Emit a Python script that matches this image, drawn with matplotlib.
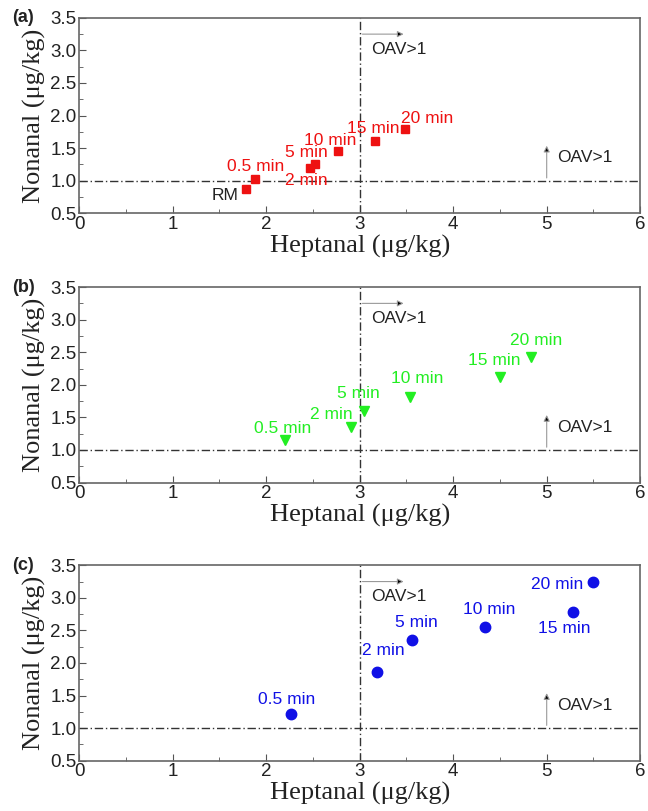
import matplotlib.pyplot as plt
from matplotlib.ticker import MultipleLocator

# Heptanal / nonanal contents at each treatment time
labels_a = ['RM', '0.5 min', '2 min', '5 min', '10 min', '15 min', '20 min']
hept_a = [1.78, 1.88, 2.47, 2.52, 2.77, 3.16, 3.49]
non_a = [0.88, 1.03, 1.19, 1.25, 1.45, 1.61, 1.79]

labels_b = ['0.5 min', '2 min', '5 min', '10 min', '15 min', '20 min']
hept_b = [2.20, 2.91, 3.05, 3.54, 4.50, 4.83]
non_b = [1.15, 1.36, 1.60, 1.81, 2.12, 2.42]

labels_c = ['0.5 min', '2 min', '5 min', '10 min', '15 min', '20 min']
hept_c = [2.27, 3.19, 3.56, 4.34, 5.28, 5.50]
non_c = [1.21, 1.86, 2.35, 2.56, 2.78, 3.25]

# label offsets in pixels from each point (text centred)
offs_a = [(-20, -7), (1, 12), (-4, -12), (-8, 12), (-8, 11), (-1, 12), (22, 11)]
offs_b = [(-2, 12), (-20, 12), (-6, 17), (7, 19), (-6, 17), (5, 17)]
offs_c = [(-5, 15), (6, 22), (4, 18), (4, 17), (-9, -16), (-36, -3)]

red = '#ee1111'
green = '#22ee22'
blue = '#1010e6'
ink = '#222222'

fig = plt.figure(figsize=(6.48, 8.11), dpi=100)
boxes = [[0.122, 0.737, 0.866, 0.241],
         [0.122, 0.405, 0.866, 0.241],
         [0.122, 0.062, 0.866, 0.241]]

panels = [('(a)', hept_a, non_a, labels_a, offs_a, 's', red, 5.5),
          ('(b)', hept_b, non_b, labels_b, offs_b, 'v', green, 7.5),
          ('(c)', hept_c, non_c, labels_c, offs_c, 'o', blue, 7.5)]

for box, (tag, x, y, labs, offs, mk, col, ms) in zip(boxes, panels):
    ax = fig.add_axes(box)
    ax.set_xlim(0, 6)
    ax.set_ylim(0.5, 3.5)
    ax.xaxis.set_major_locator(MultipleLocator(1))
    ax.xaxis.set_minor_locator(MultipleLocator(0.5))
    ax.yaxis.set_minor_locator(MultipleLocator(0.25))
    ax.set_yticks([0.5, 1.0, 1.5, 2.0, 2.5, 3.0, 3.5])
    ax.set_yticklabels(['0.5', '1.0', '1.5', '2.0', '2.5', '3.0', '3.5'])
    ax.tick_params(which='both', direction='in', colors='#555555',
                   labelcolor=ink, labelsize=13.5,
                   labelfontfamily='Liberation Sans', pad=2)
    ax.tick_params(which='major', length=5)
    ax.tick_params(which='minor', length=3)
    for s in ax.spines.values():
        s.set_color('#666666')
        s.set_linewidth(1.2)

    # OAV = 1 thresholds
    ax.axvline(3, color='#333333', lw=1.0, ls=(0, (6, 2, 1, 2)))
    ax.axhline(1, color='#333333', lw=1.0, ls=(0, (6, 2, 1, 2)))

    ax.annotate('', xy=(3.5, 3.25), xytext=(3.0, 3.25),
                arrowprops=dict(arrowstyle='-|>', color='#999999', lw=0.8,
                                mutation_scale=9, fc='black', ec='#999999'))
    ax.text(3.12, 3.02, 'OAV>1', fontsize=12.5, family='Liberation Sans',
            color=ink, va='center')
    ax.annotate('', xy=(5.0, 1.58), xytext=(5.0, 1.0),
                arrowprops=dict(arrowstyle='-|>', color='#999999', lw=0.8,
                                mutation_scale=9, fc='black', ec='#999999'))
    ax.text(5.11, 1.35, 'OAV>1', fontsize=12.5, family='Liberation Sans',
            color=ink, va='center')

    ax.plot(x, y, ls='none', marker=mk, ms=ms, color=col, mec=col)
    for xi, yi, lab, (dx, dy) in zip(x, y, labs, offs):
        c = ink if lab == 'RM' else col
        ax.annotate(lab, (xi, yi), xytext=(dx, dy), textcoords='offset pixels',
                    ha='center', va='center', fontsize=12.5, color=c,
                    family='Liberation Sans')

    ax.set_xlabel('Heptanal (μg/kg)', family='Liberation Serif', fontsize=19,
                  color=ink, labelpad=1)
    ax.set_ylabel('Nonanal (μg/kg)', family='Liberation Serif', fontsize=19,
                  color=ink, labelpad=3)
    ax.text(-0.12, 1.0, tag, transform=ax.transAxes, fontsize=13,
            fontweight='bold', family='Liberation Sans', va='center',
            ha='left', color=ink)

fig.savefig('out.png', dpi=100)
